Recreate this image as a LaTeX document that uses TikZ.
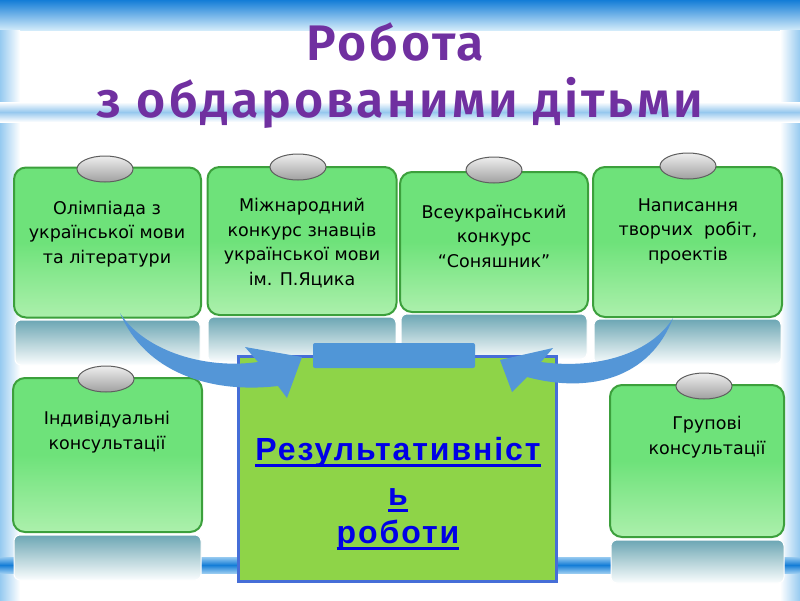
\documentclass[tikz,border=0pt]{standalone}
\usepackage{fontspec}
\setmainfont{DejaVu Sans}
\newfontfamily\titlefont[LetterSpace=6, BoldFont={Fira Sans SemiBold}]{Fira Sans}
\newfontfamily\resfont[LetterSpace=6]{Liberation Sans}
\usetikzlibrary{shapes.geometric}
\definecolor{titlepurple}{RGB}{112,48,160}
\definecolor{boxgreen}{RGB}{110,226,122}
\definecolor{boxlight}{RGB}{172,240,172}
\definecolor{boxedge}{RGB}{60,160,60}
\definecolor{reflTop}{RGB}{108,166,180}
\definecolor{reflBot}{RGB}{250,253,254}
\definecolor{arrowblue}{RGB}{84,150,215}
\definecolor{limegreen}{RGB}{142,212,72}
\definecolor{cboxedge}{RGB}{70,110,215}
\definecolor{tabblue}{RGB}{80,150,215}
\definecolor{linkblue}{RGB}{0,0,230}
\definecolor{skyblue}{RGB}{150,202,240}
\definecolor{deepblue}{RGB}{20,125,215}
\newcommand\myul[1]{\setbox0\hbox{#1}\rlap{\copy0}\rule[-6.5pt]{\wd0}{2.2pt}}
\tikzset{
  gbox/.style={draw=boxedge, line width=2pt, rounded corners=12pt,
    top color=boxgreen, bottom color=boxlight, middle color=boxgreen},
  refl/.style={draw=white, line width=1pt, rounded corners=6pt,
    top color=reflTop, bottom color=reflBot, middle color={rgb,255:red,180;green,210;blue,216}},
  oval/.style={ellipse, draw={rgb,255:red,95;green,95;blue,95}, line width=1pt,
    minimum width=56pt, minimum height=26pt, inner sep=0pt,
    top color={rgb,255:red,238;green,238;blue,238}, bottom color={rgb,255:red,160;green,160;blue,160}},
  btext/.style={align=center, font=\fontsize{17.5}{24.5}\selectfont, text=black},
  restext/.style={anchor=base, font=\resfont\bfseries\fontsize{32}{36}\selectfont, text=linkblue, inner sep=0pt},
  titletext/.style={font=\titlefont\bfseries\fontsize{50}{60}\selectfont, text=titlepurple, anchor=base},
  arrowshape/.style={fill=arrowblue},
}
\begin{document}
\begin{tikzpicture}[x=1pt,y=-1pt]
\useasboundingbox (0,0) rectangle (800,600);
% background
\fill[white] (0,0) rectangle (800,600);
\shade[top color=deepblue, bottom color={rgb,255:red,210;green,235;blue,250}] (0,0) rectangle (800,30);
\shade[left color=skyblue, right color=white] (0,30) rectangle (20,600);
\shade[left color=white, right color=skyblue] (780,30) rectangle (800,600);
\shade[top color=white, bottom color=white, middle color={rgb,255:red,150;green,200;blue,238}] (0,102) rectangle (800,122);
\shade[top color=skyblue, bottom color=skyblue, middle color=deepblue] (0,557) rectangle (800,573);
% title
\node[titletext] (title1) at (395,60) {Робота};
\node[titletext] (title2) at (400,117) {з обдарованими дітьми};
% reflections
\shade[refl] (15,320) rectangle (200,365);
\shade[refl] (208,317) rectangle (396,362);
\shade[refl] (401,314) rectangle (587,359);
\shade[refl] (594,319) rectangle (781,364);
\shade[refl] (14,535) rectangle (201,580);
\shade[refl] (611,540) rectangle (784,583);
% top boxes
\node[gbox, minimum width=187pt, minimum height=150pt] (b1) at (107.5,242.5) {};
\node[gbox, minimum width=189pt, minimum height=148pt] (b2) at (302,241) {};
\node[gbox, minimum width=188pt, minimum height=140pt] (b3) at (494,242) {};
\node[gbox, minimum width=189pt, minimum height=150pt] (b4) at (687.5,242) {};
% bottom boxes
\node[gbox, minimum width=189pt, minimum height=154pt] (b5) at (107.5,455) {};
\node[gbox, minimum width=174pt, minimum height=152pt] (b6) at (697,461) {};
% ovals
\node[oval] (o1) at (105,169) {};
\node[oval] (o2) at (298,167) {};
\node[oval] (o3) at (494,170) {};
\node[oval] (o4) at (688,166) {};
\node[oval] (o5) at (106,379) {};
\node[oval] (o6) at (704,386) {};
% box texts
\node[btext] (t1) at (107,234) {Олімпіада з\\української мови\\та літератури};
\node[btext] (t2) at (302,243) {Міжнародний\\конкурс знавців\\української мови\\ім. П.Яцика};
\node[btext] (t3) at (494,236) {Всеукраїнський\\конкурс\\“Соняшник”};
\node[btext] (t4) at (688,231) {Написання\\творчих\ \ робіт,\\проектів};
\node[btext] (t5) at (107,432) {Індивідуальні\\консультації};
\node[btext] (t6) at (707,437) {Групові\\консультації};
% centre box
\node[draw=cboxedge, line width=3pt, fill=limegreen, minimum width=318pt, minimum height=225pt] (cb) at (397,468.5) {};
\node[fill=tabblue, rounded corners=2pt, minimum width=162pt, minimum height=25pt, inner sep=0pt] (tab) at (394,355.5) {};
% arrows
\coordinate (lt) at (120,313);
\coordinate (rt) at (673,318);
\fill[arrowshape] (lt) .. controls (145,372) and (210,394) .. (278,386)
  -- (287,398) -- (302,357) -- (245,347) -- (258,362)
  .. controls (200,370) and (142,348) .. (lt) -- cycle;
\fill[arrowshape] (rt) .. controls (650,378) and (590,394) .. (527,377)
  -- (512,392) -- (500,360) -- (553,348) -- (541,362)
  .. controls (600,370) and (652,352) .. (rt) -- cycle;
% centre text
\node[restext] (c1) at (398,460) {\myul{Результативніст}};
\node[restext] (c2) at (398,505) {\myul{ь}};
\node[restext] (c3) at (398,543) {\myul{роботи}};
\end{tikzpicture}
\end{document}
